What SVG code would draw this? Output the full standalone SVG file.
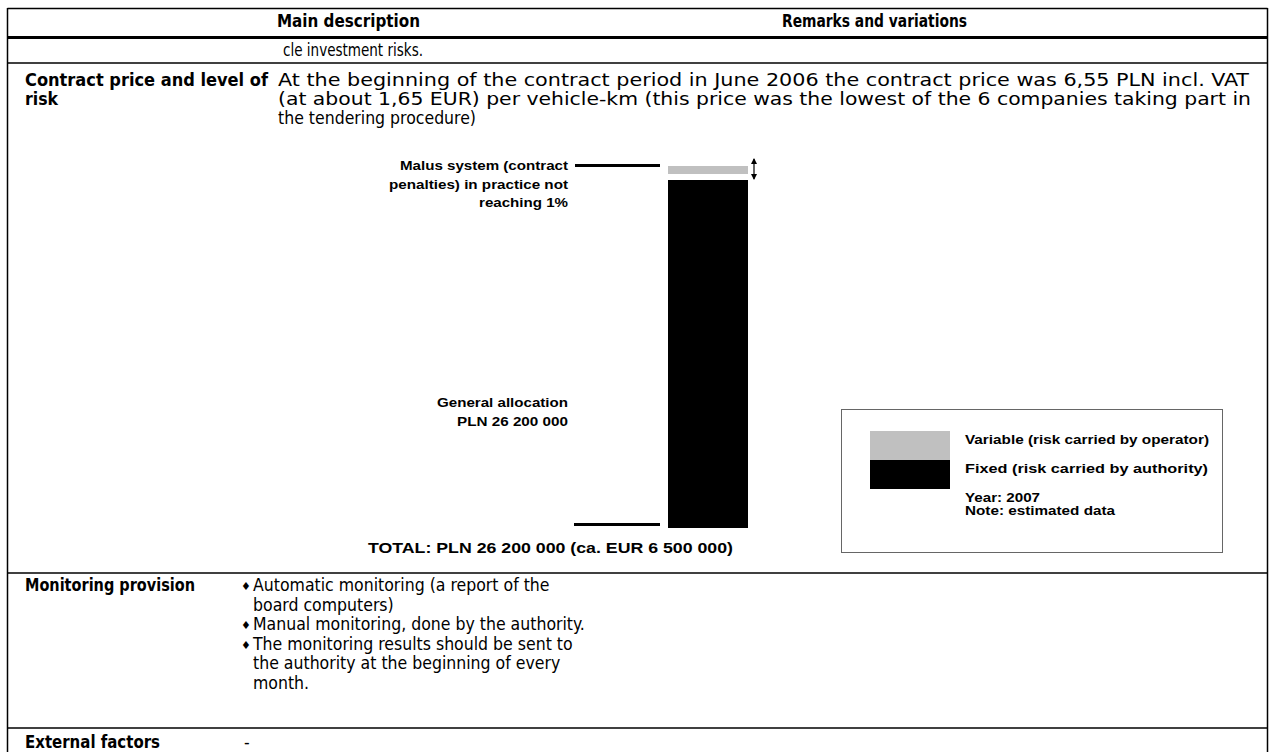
<svg xmlns="http://www.w3.org/2000/svg" width="1271" height="752" viewBox="0 0 1271 752">
<defs>
<style>
.t{font-family:"DejaVu Sans Condensed","DejaVu Sans",sans-serif;font-size:17.5px;fill:#000}
.b{font-weight:bold}
.bu{font-family:"DejaVu Sans",sans-serif;font-size:11px;fill:#000}
.c{font-family:"Liberation Sans",Arial,sans-serif;font-weight:bold;font-size:13px;fill:#000}
.l{font-family:"Liberation Sans",Arial,sans-serif;font-weight:bold;font-size:12px;fill:#000}
.rule{stroke:#000;stroke-width:1.5;fill:none}
</style>
<marker id="ah" viewBox="0 0 6 6" refX="5" refY="3" markerWidth="6" markerHeight="6" orient="auto-start-reverse" markerUnits="userSpaceOnUse">
<path d="M0,0 L6,3 L0,6 z" fill="#000"/>
</marker>
</defs>
<rect width="1271" height="752" fill="#fff"/>
<g id="table">
<line class="rule" x1="7.5" y1="8.5" x2="1267.5" y2="8.5"/>
<line x1="7.5" y1="37.5" x2="1267.5" y2="37.5" stroke="#000" stroke-width="3"/>
<line class="rule" x1="7.5" y1="63" x2="1267.5" y2="63"/>
<line class="rule" x1="7.5" y1="573" x2="1267.5" y2="573"/>
<line class="rule" x1="7.5" y1="728" x2="1267.5" y2="728"/>
<line class="rule" x1="7.5" y1="8" x2="7.5" y2="752"/>
<line class="rule" x1="1267.5" y1="8" x2="1267.5" y2="752"/>
</g>
<g id="header">
<text class="t b" x="277" y="27" textLength="143" lengthAdjust="spacingAndGlyphs">Main description</text>
<text class="t b" x="782" y="27" textLength="185" lengthAdjust="spacingAndGlyphs">Remarks and variations</text>
</g>
<g id="row-investment">
<text class="t" x="283" y="56" textLength="140" lengthAdjust="spacingAndGlyphs">cle investment risks.</text>
</g>
<g id="row-contract-price">
<text class="t b" x="25" y="86" textLength="243" lengthAdjust="spacingAndGlyphs">Contract price and level of</text>
<text class="t b" x="25" y="105">risk</text>
<text class="t" x="278" y="86" textLength="971" lengthAdjust="spacingAndGlyphs">At the beginning of the contract period in June 2006 the contract price was 6,55 PLN incl. VAT</text>
<text class="t" x="278" y="105" textLength="973" lengthAdjust="spacingAndGlyphs">(at about 1,65 EUR) per vehicle-km (this price was the lowest of the 6 companies taking part in</text>
<text class="t" x="278" y="124" textLength="198" lengthAdjust="spacingAndGlyphs">the tendering procedure)</text>
</g>
<g id="chart">
<rect x="668" y="166" width="80" height="8" fill="#c0c0c0"/>
<rect x="668" y="180" width="80" height="348" fill="#000"/>
<line x1="575" y1="165.5" x2="660" y2="165.5" stroke="#000" stroke-width="3"/>
<line x1="574" y1="524.5" x2="660" y2="524.5" stroke="#000" stroke-width="3"/>
<line x1="754" y1="159" x2="754" y2="179" stroke="#000" stroke-width="1.2" marker-start="url(#ah)" marker-end="url(#ah)"/>
<text class="c" x="400" y="170" textLength="168" lengthAdjust="spacingAndGlyphs">Malus system (contract</text>
<text class="c" x="389" y="189" textLength="179" lengthAdjust="spacingAndGlyphs">penalties) in practice not</text>
<text class="c" x="479" y="207" textLength="89" lengthAdjust="spacingAndGlyphs">reaching 1%</text>
<text class="c" x="437" y="407" textLength="131" lengthAdjust="spacingAndGlyphs">General allocation</text>
<text class="c" x="457" y="426" textLength="111" lengthAdjust="spacingAndGlyphs">PLN 26 200 000</text>
<text class="c" x="368" y="553" style="font-size:15px" textLength="365" lengthAdjust="spacingAndGlyphs">TOTAL: PLN 26 200 000 (ca. EUR 6 500 000)</text>
</g>
<g id="legend">
<rect x="841.5" y="409.5" width="381" height="143" fill="#fff" stroke="#666" stroke-width="1"/>
<rect x="870" y="431" width="80" height="29" fill="#c0c0c0"/>
<rect x="870" y="460" width="80" height="29" fill="#000"/>
<text class="l" x="965" y="444" textLength="244" lengthAdjust="spacingAndGlyphs">Variable (risk carried by operator)</text>
<text class="l" x="965" y="473" textLength="243" lengthAdjust="spacingAndGlyphs">Fixed (risk carried by authority)</text>
<text class="l" x="965" y="502" textLength="75" lengthAdjust="spacingAndGlyphs">Year: 2007</text>
<text class="l" x="965" y="515" textLength="150" lengthAdjust="spacingAndGlyphs">Note: estimated data</text>
</g>
<g id="row-monitoring">
<text class="t b" x="25" y="591" textLength="170" lengthAdjust="spacingAndGlyphs">Monitoring provision</text>
<text class="bu" x="241" y="590">♦</text>
<text class="t" x="253" y="591">Automatic monitoring (a report of the</text>
<text class="t" x="253" y="610.5">board computers)</text>
<text class="bu" x="241" y="629">♦</text>
<text class="t" x="253" y="630">Manual monitoring, done by the authority.</text>
<text class="bu" x="241" y="648.5">♦</text>
<text class="t" x="253" y="649.5">The monitoring results should be sent to</text>
<text class="t" x="253" y="669">the authority at the beginning of every</text>
<text class="t" x="253" y="688.5">month.</text>
</g>
<g id="row-external">
<text class="t b" x="25" y="748" textLength="135" lengthAdjust="spacingAndGlyphs">External factors</text>
<text class="t" x="244" y="748">-</text>
</g>
</svg>
